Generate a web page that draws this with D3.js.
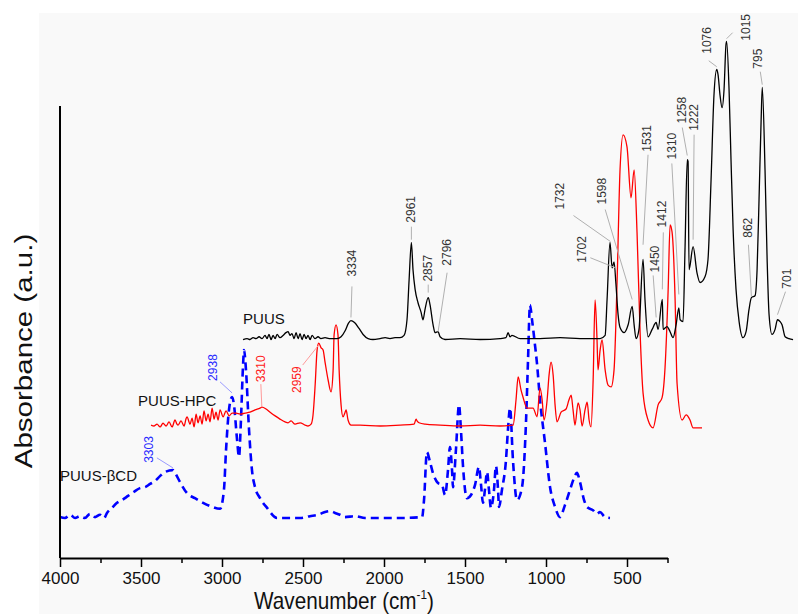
<!DOCTYPE html>
<html>
<head>
<meta charset="utf-8">
<script src="https://cdn.jsdelivr.net/npm/d3@7"></script>
<style>
  body { margin: 0; background: #fff; }
  text { font-family: "Liberation Sans", Arial, sans-serif; }
</style>
</head>
<body>
<script>
/* ------------------- Spectra: [wavenumber, absorbance] ------------------- */
const puus = [[4000,0.098],[3975,0.100],[3957,0.098],[3938,0.102],[3920,0.100],[3901,0.104],[3883,0.100],[3864,0.107],[3852,0.100],[3840,0.109],[3827,0.098],[3815,0.107],[3802,0.100],[3790,0.109],[3772,0.102],[3753,0.107],[3735,0.113],[3722,0.115],[3710,0.107],[3698,0.111],[3685,0.100],[3673,0.113],[3660,0.100],[3648,0.111],[3636,0.098],[3623,0.109],[3611,0.100],[3599,0.107],[3586,0.098],[3574,0.107],[3556,0.100],[3537,0.104],[3519,0.100],[3494,0.102],[3469,0.100],[3444,0.100],[3420,0.100],[3395,0.104],[3370,0.117],[3350,0.133],[3334,0.139],[3312,0.135],[3284,0.122],[3259,0.109],[3228,0.100],[3198,0.098],[3154,0.100],[3123,0.102],[3093,0.100],[3062,0.102],[3031,0.102],[3006,0.107],[2988,0.141],[2975,0.228],[2961,0.309],[2951,0.250],[2938,0.207],[2920,0.178],[2901,0.157],[2889,0.141],[2877,0.163],[2857,0.189],[2846,0.174],[2827,0.130],[2815,0.113],[2796,0.115],[2784,0.104],[2753,0.098],[2660,0.100],[2537,0.098],[2414,0.100],[2377,0.102],[2364,0.113],[2352,0.104],[2340,0.107],[2290,0.100],[2167,0.100],[2043,0.102],[1920,0.100],[1796,0.100],[1765,0.107],[1753,0.185],[1735,0.309],[1722,0.254],[1710,0.267],[1698,0.217],[1685,0.152],[1673,0.124],[1648,0.113],[1623,0.130],[1598,0.170],[1586,0.130],[1574,0.100],[1556,0.120],[1531,0.272],[1519,0.185],[1500,0.104],[1475,0.120],[1450,0.135],[1438,0.120],[1412,0.185],[1407,0.120],[1383,0.126],[1364,0.115],[1346,0.102],[1327,0.130],[1310,0.167],[1302,0.141],[1284,0.137],[1272,0.293],[1258,0.489],[1253,0.485],[1247,0.250],[1222,0.300],[1198,0.243],[1179,0.222],[1148,0.235],[1130,0.272],[1111,0.446],[1093,0.630],[1076,0.685],[1068,0.674],[1056,0.630],[1043,0.602],[1031,0.641],[1019,0.739],[1015,0.746],[1000,0.641],[988,0.489],[975,0.337],[957,0.207],[938,0.137],[914,0.102],[895,0.115],[877,0.163],[862,0.189],[840,0.193],[827,0.250],[815,0.402],[802,0.576],[795,0.646],[778,0.467],[765,0.272],[753,0.152],[735,0.109],[716,0.120],[701,0.141],[685,0.137],[673,0.130],[654,0.104],[630,0.100],[605,0.098]];

const puusHpc = [[3994,0.102],[3975,0.100],[3957,0.104],[3938,0.098],[3920,0.106],[3901,0.100],[3883,0.109],[3864,0.098],[3846,0.113],[3834,0.104],[3827,0.102],[3809,0.111],[3790,0.100],[3778,0.116],[3772,0.120],[3753,0.104],[3741,0.117],[3728,0.098],[3716,0.126],[3704,0.107],[3691,0.122],[3679,0.104],[3667,0.133],[3654,0.111],[3642,0.126],[3630,0.109],[3617,0.139],[3605,0.115],[3593,0.130],[3580,0.113],[3568,0.135],[3549,0.120],[3531,0.133],[3512,0.122],[3494,0.128],[3469,0.128],[3444,0.126],[3414,0.128],[3383,0.130],[3352,0.135],[3321,0.139],[3310,0.141],[3284,0.137],[3259,0.130],[3228,0.122],[3198,0.115],[3167,0.109],[3148,0.107],[3130,0.111],[3105,0.104],[3074,0.107],[3043,0.102],[3025,0.100],[3006,0.104],[2994,0.124],[2981,0.189],[2969,0.265],[2959,0.280],[2944,0.270],[2932,0.265],[2920,0.239],[2901,0.200],[2883,0.174],[2870,0.222],[2864,0.298],[2852,0.320],[2840,0.298],[2833,0.222],[2821,0.146],[2809,0.120],[2796,0.130],[2790,0.135],[2778,0.113],[2759,0.102],[2704,0.102],[2580,0.100],[2457,0.102],[2370,0.104],[2358,0.115],[2352,0.111],[2340,0.107],[2302,0.104],[2210,0.102],[2086,0.100],[1963,0.102],[1840,0.100],[1759,0.102],[1741,0.157],[1728,0.207],[1710,0.178],[1698,0.163],[1673,0.139],[1636,0.139],[1611,0.120],[1593,0.183],[1580,0.157],[1568,0.113],[1549,0.157],[1537,0.211],[1525,0.239],[1512,0.211],[1500,0.146],[1488,0.109],[1463,0.130],[1432,0.137],[1414,0.157],[1401,0.167],[1389,0.135],[1377,0.102],[1358,0.150],[1346,0.135],[1333,0.100],[1315,0.135],[1302,0.152],[1290,0.113],[1278,0.098],[1265,0.200],[1253,0.374],[1241,0.287],[1235,0.222],[1222,0.265],[1210,0.287],[1191,0.222],[1173,0.189],[1154,0.185],[1136,0.222],[1117,0.417],[1099,0.657],[1080,0.733],[1056,0.707],[1031,0.596],[1012,0.657],[994,0.520],[975,0.302],[957,0.172],[926,0.113],[895,0.096],[864,0.146],[840,0.161],[821,0.228],[802,0.396],[790,0.537],[778,0.522],[759,0.374],[747,0.193],[716,0.113],[691,0.124],[667,0.113],[648,0.096],[593,0.096]];

const puusBcd = [[4000,0.102],[3969,0.100],[3938,0.107],[3907,0.100],[3877,0.104],[3846,0.100],[3815,0.109],[3784,0.102],[3753,0.107],[3728,0.100],[3710,0.111],[3679,0.122],[3648,0.133],[3617,0.139],[3580,0.148],[3543,0.157],[3506,0.165],[3475,0.167],[3444,0.174],[3414,0.180],[3383,0.191],[3352,0.200],[3303,0.204],[3290,0.198],[3259,0.178],[3216,0.154],[3167,0.143],[3117,0.133],[3074,0.126],[3012,0.120],[2988,0.161],[2975,0.248],[2957,0.335],[2938,0.363],[2926,0.346],[2907,0.270],[2895,0.233],[2883,0.313],[2870,0.433],[2864,0.465],[2852,0.422],[2833,0.291],[2815,0.204],[2796,0.167],[2765,0.143],[2722,0.122],[2660,0.100],[2519,0.100],[2457,0.104],[2407,0.107],[2364,0.113],[2333,0.115],[2302,0.111],[2272,0.107],[2241,0.102],[2179,0.104],[2117,0.100],[2025,0.100],[1901,0.100],[1765,0.102],[1753,0.139],[1735,0.243],[1716,0.222],[1698,0.198],[1667,0.176],[1642,0.172],[1623,0.150],[1605,0.204],[1593,0.254],[1580,0.204],[1574,0.167],[1556,0.248],[1537,0.346],[1525,0.291],[1512,0.211],[1488,0.143],[1463,0.150],[1438,0.172],[1414,0.211],[1401,0.172],[1389,0.133],[1377,0.161],[1364,0.200],[1352,0.161],[1340,0.122],[1321,0.161],[1309,0.213],[1296,0.161],[1290,0.124],[1272,0.161],[1247,0.226],[1235,0.291],[1222,0.339],[1204,0.226],[1179,0.139],[1148,0.167],[1123,0.313],[1111,0.443],[1099,0.563],[1086,0.530],[1068,0.476],[1056,0.437],[1037,0.357],[1006,0.263],[975,0.167],[944,0.124],[914,0.102],[883,0.128],[852,0.161],[827,0.187],[809,0.198],[790,0.178],[765,0.139],[747,0.124],[710,0.117],[685,0.109],[667,0.113],[636,0.102],[605,0.100]];

const seriesNames = ["PUUS", "PUUS-HPC", "PUUS-\u03b2CD"];
const xTicks = [4000, 3500, 3000, 2500, 2000, 1500, 1000, 500];
const xMinorTicks = [3750, 3250, 2750, 2250, 1750, 1250, 750, 250];

// peak annotations: series index, label, wavenumber and absorbance of the pointed spot
const peaks = [
  [0,"3334",3334,0.146],[0,"2961",2961,0.315],[0,"2857",2857,0.200],[0,"2796",2796,0.115],
  [0,"1732",1732,0.311],[0,"1702",1702,0.254],[0,"1598",1598,0.185],[0,"1531",1531,0.304],
  [0,"1450",1450,0.146],[0,"1412",1412,0.207],[0,"1310",1310,0.196],[0,"1258",1258,0.498],
  [0,"1222",1222,0.315],[0,"1076",1076,0.691],[0,"1015",1015,0.752],[0,"862",862,0.191],
  [0,"795",795,0.652],[0,"701",701,0.152],
  [1,"2959",2959,0.276],[1,"3310",3310,0.141],
  [2,"2938",2938,0.372],[2,"3303",3303,0.209]
];

/* -------------------------- Layout -------------------------- */
const W = 798, H = 614;
const plotLeft = 60, plotRight = 667.5, plotTop = 106, plotBottom = 558;

// stacking of the three traces (shift in cm-1 to the right, lift in a.u.)
const stack = [
  { data: puus,    shift: 1130, lift: 0.39, color: "#000",    width: 1.3, dash: null,  label: "#333", lead: "#b0b0b0", name: [0, -16] },
  { data: puusHpc, shift: 556,  lift: 0.20, color: "#ff0000", width: 1.3, dash: null,  label: "#ff2020", lead: "#ff9a9a", name: [-12, -19] },
  { data: puusBcd, shift: 0,    lift: 0.00, color: "#0000ff", width: 2.6, dash: "8,5", label: "#2a2aff", lead: "#9a9aff", name: [0, -36] }
];

// label text offset (tx,ty) and leader start (lx,ly) from the pointed spot, px
const labelPos = {
  "3334":[1,-41,1,-31], "2961":[0,-17,0,-13], "2857":[0,-11,0,-8], "2796":[9,-66,9,-59],
  "1732":[-50,-32,-37,-26], "1702":[-33,-5,-25,-10], "1598":[-30,-95,-27,-90], "1531":[4,-93,5,-90],
  "1450":[-1,-45,-3,-42], "1412":[0,-62,1,-57], "1310":[-7,-135,-7,-131], "1258":[-5,-32,-5,-28],
  "1222":[1,-109,1,-105], "1076":[-10,-13,-8,-6], "1015":[19,2,6,-6], "862":[-3,-59,-3,-52],
  "795":[-4,-16,-2,-13], "701":[10,-26,8,-23],
  "2959":[-22,48,-16,20], "3310":[-1,-25,-1,-23],
  "2938":[-19,-12,-12,-11], "3303":[-24,-5,-16,-10]
};

const svg = d3.select("body").append("svg").attr("width", W).attr("height", H);
svg.append("rect").attr("width", W).attr("height", H).attr("fill", "#fff");
svg.append("rect").attr("x", 39).attr("y", 13).attr("width", W - 39).attr("height", H - 13).attr("fill", "#f9f9f9");

const x = d3.scaleLinear().domain([4000, 250]).range([plotLeft, plotRight]);
const y = d3.scaleLinear().domain([0, 1]).range([564, 104]);

/* -------------------------- Spectra -------------------------- */
stack.slice().reverse().forEach(s => {
  const line = d3.line()
    .x(d => x(d[0] - s.shift))
    .y(d => y(d[1] + s.lift))
    .curve(d3.curveMonotoneX);
  svg.append("path")
    .datum(s.data)
    .attr("d", line)
    .attr("fill", "none")
    .attr("stroke", s.color)
    .attr("stroke-width", s.width)
    .attr("stroke-dasharray", s.dash)
    .attr("stroke-linejoin", "round");
});

/* -------------------------- Peak labels -------------------------- */
peaks.forEach(p => {
  const s = stack[p[0]];
  const px = x(p[2] - s.shift), py = y(p[3] + s.lift);
  const o = labelPos[p[1]];
  svg.append("line")
    .attr("x1", px + o[2]).attr("y1", py + o[3])
    .attr("x2", px).attr("y2", py)
    .attr("stroke", s.lead).attr("stroke-width", 1);
  svg.append("text")
    .attr("transform", `translate(${px + o[0] + 4},${py + o[1]}) rotate(-90)`)
    .attr("font-size", "12px")
    .attr("fill", s.label)
    .text(p[1]);
});

// series names
stack.forEach((s, i) => {
  svg.append("text")
    .attr("x", x(4000 - s.shift) + s.name[0])
    .attr("y", y(s.data[0][1] + s.lift) + s.name[1])
    .attr("font-size", "15px")
    .attr("fill", "#111")
    .text(seriesNames[i]);
});

/* -------------------------- Axes -------------------------- */
const xAxis = svg.append("g")
  .attr("transform", `translate(0,${plotBottom})`)
  .call(d3.axisBottom(x).tickValues(xTicks).tickSize(9).tickSizeOuter(0).tickPadding(5).tickFormat(d3.format("d")));
svg.append("g")
  .attr("transform", `translate(0,${plotBottom})`)
  .call(d3.axisBottom(x).tickValues(xMinorTicks).tickSize(5).tickSizeOuter(0).tickFormat(""))
  .select(".domain").remove();
xAxis.select(".domain").attr("stroke-width", 2);
svg.selectAll(".tick line").attr("stroke-width", 1.5);
xAxis.selectAll(".tick text")
  .attr("font-size", "17px")
  .attr("fill", "#111")
  .style("font-family", "'Liberation Sans', Arial, sans-serif");

svg.append("line")
  .attr("x1", plotLeft).attr("x2", plotLeft)
  .attr("y1", plotTop).attr("y2", plotBottom)
  .attr("stroke", "#000").attr("stroke-width", 2);

// axis titles
const xt = svg.append("text")
  .attr("transform", `translate(344,609) scale(0.9,1)`)
  .attr("text-anchor", "middle")
  .attr("font-size", "23px")
  .attr("fill", "#111");
xt.append("tspan").text("Wavenumber (cm");
xt.append("tspan").attr("font-size", "13px").attr("dy", -10).text("-1");
xt.append("tspan").attr("dy", 10).text(")");

svg.append("text")
  .attr("transform", "translate(32,351) rotate(-90) scale(1,0.82)")
  .attr("text-anchor", "middle")
  .attr("font-size", "29.5px")
  .attr("fill", "#111")
  .text("Absorbance (a.u.)");
</script>
</body>
</html>
